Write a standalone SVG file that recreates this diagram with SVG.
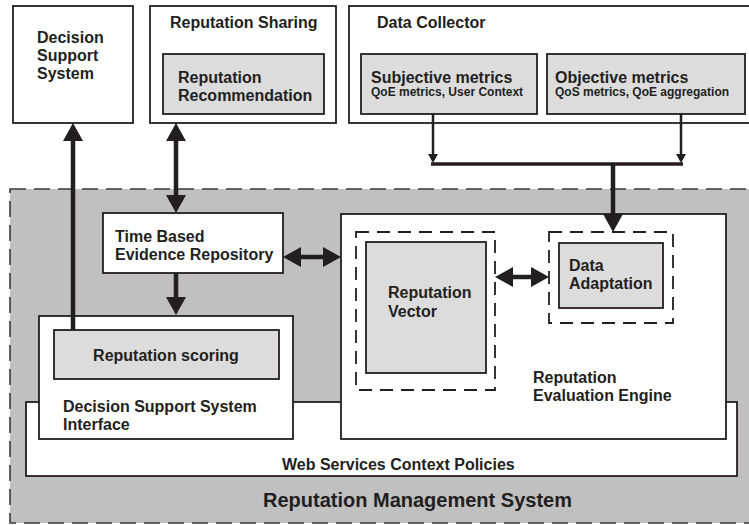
<svg xmlns="http://www.w3.org/2000/svg" width="749" height="525" viewBox="0 0 749 525">
<style>
.box{fill:#fff;stroke:#231f20;stroke-width:1.8}
.inner{fill:#dcdcdc;stroke:#231f20;stroke-width:1.8}
.dash{fill:none;stroke:#231f20;stroke-width:1.8;stroke-dasharray:13,8}
.t{font-family:"Liberation Sans",Arial,sans-serif;font-weight:bold;font-size:16px;fill:#231f20}
.s{font-size:12px}
.big{fill:none;stroke:#231f20;stroke-width:4.5}
.thin{fill:none;stroke:#231f20;stroke-width:2.5}
</style>
<defs>
<marker id="ah" markerUnits="userSpaceOnUse" markerWidth="18" markerHeight="20" refX="0" refY="10" orient="auto-start-reverse" overflow="visible"><path d="M0,0 L18,10 L0,20 z" fill="#231f20"/></marker>
<marker id="as" markerUnits="userSpaceOnUse" markerWidth="9" markerHeight="10" refX="0" refY="5" orient="auto-start-reverse" overflow="visible"><path d="M0,0 L9,5 L0,10 z" fill="#231f20"/></marker>
</defs>
<rect width="749" height="525" fill="#fff"/>
<g id="rms">
<rect x="10" y="189" width="760" height="334" fill="#c0c0c0" stroke="#3a3a3a" stroke-width="1.6" stroke-dasharray="16,8"/>
<text class="t" x="263" y="507" font-size="20" style="font-size:20px">Reputation Management System</text>
</g>
<g id="dss">
<rect class="box" x="13" y="6" width="120" height="117"/>
<text class="t" x="37" y="43">Decision</text>
<text class="t" x="37" y="61">Support</text>
<text class="t" x="37" y="79">System</text>
</g>
<g id="sharing">
<rect class="box" x="150" y="6" width="186" height="117"/>
<text class="t" x="170" y="28">Reputation Sharing</text>
<rect class="inner" x="163" y="54" width="161" height="60"/>
<text class="t" x="178" y="83">Reputation</text>
<text class="t" x="178" y="101">Recommendation</text>
</g>
<g id="collector">
<rect class="box" x="349" y="6" width="410" height="117"/>
<text class="t" x="377" y="28">Data Collector</text>
<rect class="inner" x="361" y="54" width="176" height="60"/>
<text class="t" x="371" y="83">Subjective metrics</text>
<text class="t s" x="371" y="96">QoE metrics, User Context</text>
<rect class="inner" x="547" y="54" width="198" height="60"/>
<text class="t" x="555" y="83">Objective metrics</text>
<text class="t s" x="555" y="96">QoS metrics, QoE aggregation</text>
</g>
<g id="wscp">
<rect class="box" x="26" y="402" width="711" height="74"/>
<text class="t" x="282" y="470">Web Services Context Policies</text>
</g>
<g id="tber">
<rect class="box" x="103" y="213" width="180" height="60"/>
<text class="t" x="115" y="242">Time Based</text>
<text class="t" x="115" y="260">Evidence Repository</text>
</g>
<g id="dssi">
<rect class="box" x="39" y="316" width="254" height="123"/>
<rect class="inner" x="54" y="330" width="225" height="49"/>
<text class="t" x="166" y="361" text-anchor="middle">Reputation scoring</text>
<text class="t" x="63" y="412">Decision Support System</text>
<text class="t" x="63" y="430">Interface</text>
</g>
<g id="ree">
<rect class="box" x="341" y="214" width="385" height="225"/>
<text class="t" x="533" y="383">Reputation</text>
<text class="t" x="533" y="401">Evaluation Engine</text>
</g>
<g id="vector">
<rect class="dash" x="356" y="232" width="139" height="158"/>
<rect class="inner" x="366" y="242" width="120" height="131"/>
<text class="t" x="388" y="298">Reputation</text>
<text class="t" x="388" y="317">Vector</text>
</g>
<g id="adaptation">
<rect class="dash" x="549" y="232" width="124" height="91"/>
<rect class="inner" x="559" y="243" width="104" height="65"/>
<text class="t" x="569" y="271">Data</text>
<text class="t" x="569" y="289">Adaptation</text>
</g>
<g id="connectors">
<line class="big" x1="73" y1="330" x2="73" y2="141" marker-end="url(#ah)"/>
<line class="big" x1="176" y1="141" x2="176" y2="195" marker-start="url(#ah)" marker-end="url(#ah)"/>
<line class="big" x1="176" y1="273" x2="176" y2="297" marker-end="url(#ah)"/>
<line class="big" x1="301" y1="257" x2="323" y2="257" marker-start="url(#ah)" marker-end="url(#ah)"/>
<line class="big" x1="513" y1="277" x2="531" y2="277" marker-start="url(#ah)" marker-end="url(#ah)"/>
<line class="thin" x1="433" y1="114" x2="433" y2="154" marker-end="url(#as)"/>
<line class="thin" x1="681" y1="114" x2="681" y2="154" marker-end="url(#as)"/>
<line x1="431" y1="164" x2="683" y2="164" stroke="#231f20" stroke-width="3.5"/>
<line class="big" x1="613" y1="164" x2="613" y2="214" marker-end="url(#ah)"/>
</g>
</svg>
